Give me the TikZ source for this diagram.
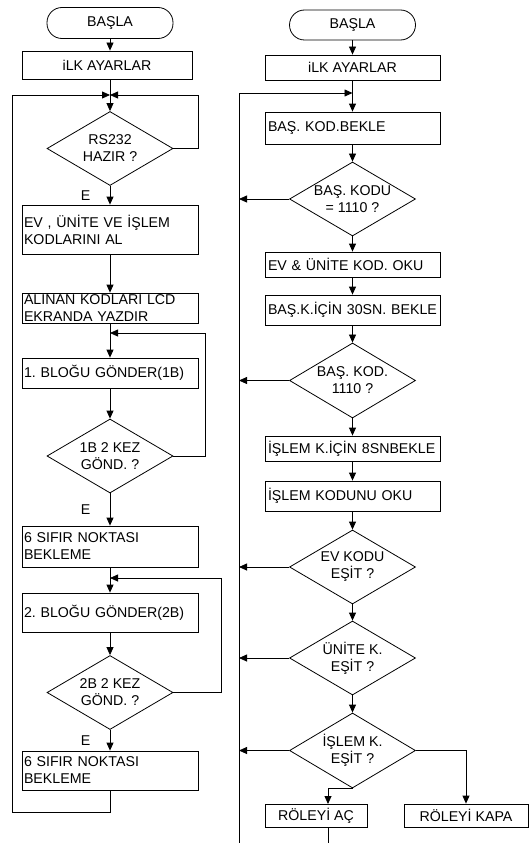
\documentclass[tikz,border=0pt]{standalone}
\usepackage{fontspec}
\setmainfont{Liberation Sans}
\usetikzlibrary{shapes,arrows.meta,positioning,calc}

\tikzset{
  basbit/.style={draw, rounded corners=15pt, minimum width=126pt, minimum height=31pt, inner sep=0pt},
  kutu/.style={draw, rectangle, minimum height=#1, inner sep=0pt},
  solkutu/.style={draw, rectangle, minimum height=#1, text width=172pt, inner xsep=2pt, inner ysep=0pt, align=left},
  sagkutu/.style={draw, rectangle, minimum height=#1, text width=169pt, inner xsep=3pt, inner ysep=0pt, align=left},
  karar/.style={draw, diamond, minimum width=126pt, minimum height=74pt, inner sep=0pt},
  ok/.style={-{Triangle[length=8pt,width=7pt]}},
  evet/.style={midway, left=16pt}
}

\begin{document}
\frenchspacing
\begin{tikzpicture}[x=1pt, y=-1pt, line width=0.8pt,
    font=\fontsize{14.2}{17}\selectfont]
        \useasboundingbox (0,0) rectangle (529,843);
        % Left flowchart
        \node[basbit] (basla1) at (110,23) {BAŞLA};
        \node[kutu=28pt, minimum width=170pt] (ilk1) at (107,65) {iLK AYARLAR};
        \coordinate (j1) at (110,95);
        \node[karar, label={[align=center]center:RS232\\HAZIR ?}] (rs232) at (110,148.5) {};
        \node[solkutu=49pt] (evkod) at (110,229.5) {EV , ÜNİTE VE İŞLEM\\KODLARINI AL};
        \node[solkutu=30pt] (alinan) at (110,308) {ALINAN KODLARI LCD\\EKRANDA YAZDIR};
        \coordinate (j2) at (110,333);
        \node[solkutu=30pt] (blok1) at (110,373) {1. BLOĞU GÖNDER(1B)};
        \node[karar, label={[align=center]center:1B 2 KEZ\\GÖND. ?}] (d1b) at (110,456) {};
        \node[solkutu=41pt] (sifir1) at (110,546.5) {6 SIFIR NOKTASI\\BEKLEME};
        \coordinate (j3) at (110,578);
        \node[solkutu=39pt] (blok2) at (110,612.5) {2. BLOĞU GÖNDER(2B)};
        \node[karar, label={[align=center]center:2B 2 KEZ\\GÖND. ?}] (d2b) at (110,692.5) {};
        \node[solkutu=39pt] (sifir2) at (110,770.5) {6 SIFIR NOKTASI\\BEKLEME};
        \coordinate (sol) at (12,812);
        % Left connectors
        \draw[ok] (basla1) -- (basla1 |- ilk1.north);
        \draw (j1 |- ilk1.south) -- (j1);
        \draw[ok] (j1) -- (rs232);
        \draw[ok] (rs232.east) -- ++(25,0) |- (j1);
        \draw[ok] (rs232) -- node[evet] (e1) {E} (evkod);
        \draw[ok] (evkod) -- (alinan);
        \draw (alinan) -- (j2);
        \draw[ok] (j2) -- (blok1);
        \draw[ok] (blok1) -- (d1b);
        \draw[ok] (d1b.east) -- ++(32,0) |- (j2);
        \draw[ok] (d1b) -- node[evet] (e2) {E} (sifir1);
        \draw (sifir1) -- (j3);
        \draw[ok] (j3) -- (blok2);
        \draw[ok] (blok2) -- (d2b);
        \draw[ok] (d2b.east) -- ++(48,0) |- (j3);
        \draw[ok] (d2b) -- node[evet] (e3) {E} (sifir2);
        \draw[ok] (sifir2.south) |- (sol) |- (j1);
        % Right flowchart
        \node[basbit, minimum height=30pt] (basla2) at (352.5,25) {BAŞLA};
        \node[kutu=25pt, minimum width=175pt] (ilk2) at (352.5,67.5) {iLK AYARLAR};
        \coordinate (j4) at (352.5,93);
        \node[sagkutu=32pt] (bekle) at (352.5,128) {BAŞ. KOD.BEKLE};
        \node[karar, label={[align=center]center:BAŞ. KODU\\= 1110 ?}] (dkod1) at (352.5,199) {};
        \node[sagkutu=25pt] (oku1) at (352.5,264.5) {EV \& ÜNİTE KOD. OKU};
        \node[sagkutu=30pt] (bekle30) at (352.5,310) {BAŞ.K.İÇİN 30SN. BEKLE};
        \node[karar, minimum height=75pt, label={[align=center]center:BAŞ. KOD.\\1110 ?}] (dkod2) at (352.5,380.5) {};
        \node[sagkutu=25pt] (bekle8) at (352.5,448.5) {İŞLEM K.İÇİN 8SNBEKLE};
        \node[sagkutu=30pt] (oku2) at (352.5,496) {İŞLEM KODUNU OKU};
        \node[karar, label={[align=center]center:EV KODU\\EŞİT ?}] (dev) at (352.5,567) {};
        \node[karar, label={[align=center]center:ÜNİTE K.\\EŞİT ?}] (dunite) at (352.5,658) {};
        \node[karar, minimum height=75pt, label={[align=center]center:İŞLEM K.\\EŞİT ?}] (dislem) at (352.5,750.5) {};
        \node[kutu=23pt, minimum width=102pt] (ac) at (316,815.5) {RÖLEYİ AÇ};
        \node[kutu=23pt, minimum width=124pt] (kapa) at (466,815.5) {RÖLEYİ KAPA};
        \coordinate (sagust) at (239,93);
        \coordinate (sagalt) at (239,843);
        \coordinate (acgiris) at (328,804);
        \coordinate (acalt) at (328,843);
        % Right connectors
        \draw[ok] (basla2) -- (ilk2);
        \draw (ilk2) -- (j4);
        \draw[ok] (sagalt) -- (sagust) -- (j4);
        \draw[ok] (j4) -- (bekle);
        \draw[ok] (bekle) -- (dkod1);
        \draw[ok] (dkod1) -- (oku1);
        \draw[ok] (oku1) -- (bekle30);
        \draw[ok] (bekle30) -- (dkod2);
        \draw[ok] (dkod2) -- (bekle8);
        \draw[ok] (bekle8) -- (oku2);
        \draw[ok] (oku2) -- (dev);
        \draw[ok] (dev) -- (dunite);
        \draw[ok] (dunite) -- (dislem);
        \draw[ok] (dkod1.west) -- (dkod1.west -| sagust);
        \draw[ok] (dkod2.west) -- (dkod2.west -| sagust);
        \draw[ok] (dev.west) -- (dev.west -| sagust);
        \draw[ok] (dunite.west) -- (dunite.west -| sagust);
        \draw[ok] (dislem.west) -- (dislem.west -| sagust);
        \draw[ok] (dislem.south) -| (acgiris);
        \draw[ok] (dislem.east) -| (kapa.north);
        \draw (acgiris |- ac.south) -- (acalt);
\end{tikzpicture}
\end{document}
